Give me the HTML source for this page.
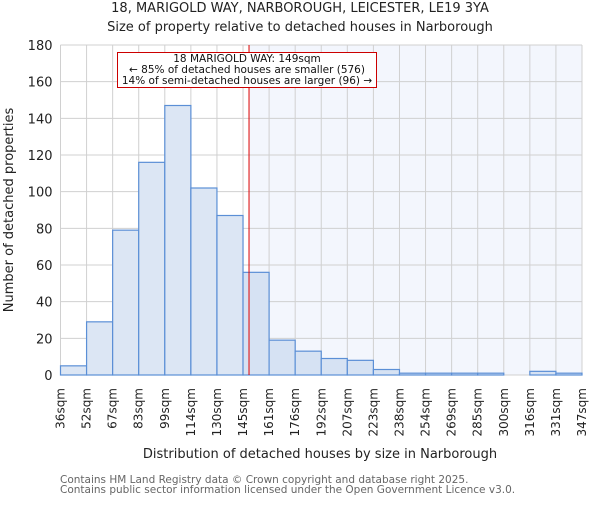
<!DOCTYPE html><html><head><meta charset="utf-8"><style>body{margin:0;background:#fff}svg{font-family:"DejaVu Sans","Liberation Sans",sans-serif}</style></head><body>
<svg id="c" width="600" height="500" xmlns="http://www.w3.org/2000/svg"></svg>
<script>
const edges=["36sqm","52sqm","67sqm","83sqm","99sqm","114sqm","130sqm","145sqm","161sqm","176sqm","192sqm","207sqm","223sqm","238sqm","254sqm","269sqm","285sqm","300sqm","316sqm","331sqm","347sqm"];
const counts=[5,29,79,116,147,102,87,56,19,13,9,8,3,1,1,1,1,0,2,1];
const yTicks=[0,20,40,60,80,100,120,140,160,180];
const markerBin=7.23;
const ns="http://www.w3.org/2000/svg",s=document.getElementById('c');
const L=60.5,R=582,T=45,B=375,n=counts.length,yMax=180;
const x=i=>L+(R-L)*i/n,y=v=>B-(B-T)*v/yMax;
function el(t,a,p){const e=document.createElementNS(ns,t);for(const k in a)e.setAttribute(k,a[k]);(p||s).appendChild(e);return e;}
const mx=x(markerBin);
let e=el('rect',{x:mx,y:T,width:R-mx,height:B-T,fill:'#f3f6fd'});


for(let i=0;i<=n;i++){e=el('line',{x1:x(i),x2:x(i),y1:T,y2:B,stroke:'#d0d0d0'});

}
yTicks.forEach(v=>{e=el('line',{x1:L,x2:R,y1:y(v),y2:y(v),stroke:'#d0d0d0'});


e=el('text',{x:L-8,y:y(v)+5,'text-anchor':'end','font-size':13,fill:'#222'});e.textContent=v;

});
counts.forEach((c,i)=>{e=el('rect',{x:x(i),y:y(c),width:x(i+1)-x(i),height:B-y(c),fill:i<7?'#dce6f4':'#d6e2f3',stroke:'#5b8fd6','stroke-width':1.2});

});
edges.forEach((t,i)=>{const xx=x(i)+4;e=el('text',{x:0,y:0,transform:`translate(${xx},388) rotate(-90)`,'text-anchor':'end','font-size':12,fill:'#222'});e.textContent=t;

});
e=el('line',{x1:mx,x2:mx,y1:T,y2:B,stroke:'#dd0000','stroke-width':1});


e=el('rect',{x:117.5,y:52.5,width:259,height:35,fill:'#fff',stroke:'#cc0000'});


["18 MARIGOLD WAY: 149sqm","← 85% of detached houses are smaller (576)","14% of semi-detached houses are larger (96) →"].forEach((t,i)=>{e=el('text',{x:247,y:62+i*11,'text-anchor':'middle','font-size':10.5,fill:'#111'});e.textContent=t;

});
[["18, MARIGOLD WAY, NARBOROUGH, LEICESTER, LE19 3YA",12],["Size of property relative to detached houses in Narborough",31]].forEach(([t,yy])=>{e=el('text',{x:300,y:yy,'text-anchor':'middle','font-size':13,fill:'#222'});e.textContent=t;

});
e=el('text',{x:0,y:0,transform:'translate(13,210) rotate(-90)','text-anchor':'middle','font-size':13,fill:'#222'});e.textContent='Number of detached properties';


e=el('text',{x:320,y:458,'text-anchor':'middle','font-size':13,fill:'#222'});e.textContent='Distribution of detached houses by size in Narborough';


["Contains HM Land Registry data © Crown copyright and database right 2025.","Contains public sector information licensed under the Open Government Licence v3.0."].forEach((t,i)=>{e=el('text',{x:60,y:483+i*10,'font-size':10.5,fill:'#666'});e.textContent=t;

});
</script></body></html>
